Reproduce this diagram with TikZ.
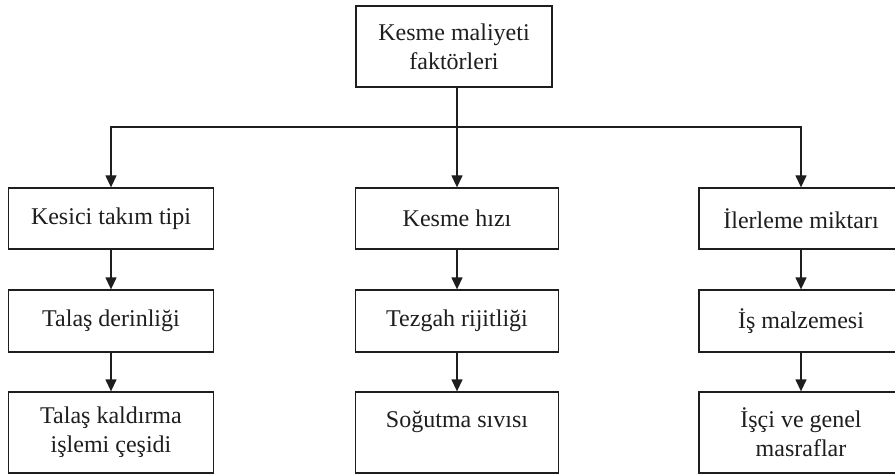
\documentclass[tikz,border=0pt]{standalone}
\usepackage{fontspec}
\setmainfont{Liberation Serif}
\usetikzlibrary{arrows.meta}
\definecolor{ink}{HTML}{1E1E1E}
\begin{document}
\begin{tikzpicture}[x=1pt,y=-1pt,
  box/.style={draw=ink, line width=1.3pt, minimum width=#1, inner sep=0pt,
     align=center, font=\fontsize{24}{29}\selectfont, text=ink},
  box/.default=205pt,
  arr/.style={draw=ink, line width=1.3pt, -{Triangle[width=11pt,length=12pt]}},
  ln/.style={draw=ink, line width=1.3pt}]
\useasboundingbox[fill=white] (0,0) rectangle (895,476);
\clip (0,0) rectangle (895,476);
% top
\node[box=196pt, minimum height=81pt] (top) at (454,46.5) {Kesme maliyeti\\faktörleri};
% row 1
\node[box, minimum height=61pt] (l1) at (111,218.5) {Kesici takım tipi};
\node[box=203pt, minimum height=61pt] (m1) at (457,218.5) {Kesme hızı};
\node[box=204pt, minimum height=61pt] (r1) at (801,218.5) {İlerleme miktarı};
% row 2
\node[box, minimum height=62pt] (l2) at (111,321) {Talaş derinliği};
\node[box=203pt, minimum height=62pt] (m2) at (457,321) {Tezgah rijitliği};
\node[box=204pt, minimum height=62pt] (r2) at (801,321) {İş malzemesi};
% row 3
\node[box, minimum height=81pt] (l3) at (111,432.5) {Talaş kaldırma\\işlemi çeşidi};
\node[box=203pt, minimum height=81pt, text depth=26pt] (m3) at (457,432.5) {Soğutma sıvısı};
\node[box=204pt, minimum height=81pt] (r3) at (801,432.5) {İşçi ve genel\\masraflar};
% connectors
\coordinate (hub) at (457,127);
\draw[arr] (top.south -| m1.north) -- (m1.north);
\draw[arr] (hub) -| (l1.north);
\draw[arr] (hub) -| (r1.north);
\draw[arr] (l1) -- (l2);
\draw[arr] (l2) -- (l3);
\draw[arr] (m1) -- (m2);
\draw[arr] (m2) -- (m3);
\draw[arr] (r1) -- (r2);
\draw[arr] (r2) -- (r3);
\end{tikzpicture}
\end{document}
